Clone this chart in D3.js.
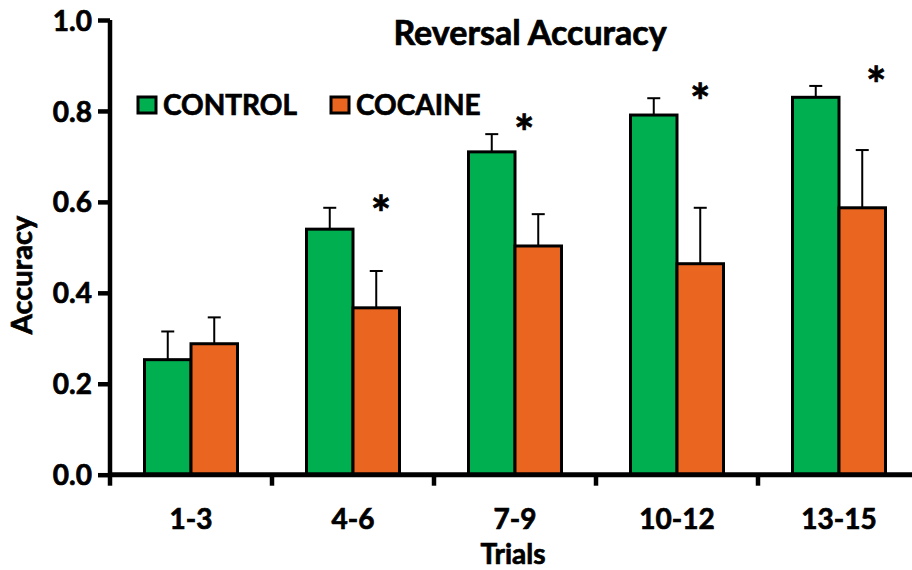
<!DOCTYPE html>
<html>
<head>
<meta charset="utf-8">
<script src="https://cdn.jsdelivr.net/npm/d3@7"></script>
<style>
  body { margin: 0; background: #fff; }
  text { font-family: Lato, "Open Sans", sans-serif; font-weight: bold; fill: #000; stroke: #000; stroke-width: 0.7px; }
</style>
</head>
<body>
<div id="chart"></div>
<script>
// data
var categories = ["1-3", "4-6", "7-9", "10-12", "13-15"]
var seriesNames = ["CONTROL", "COCAINE"]
var seriesColors = ["#00b050", "#ea6620"]
var controlMean = [0.253, 0.540, 0.710, 0.791, 0.830]
var controlErr = [0.062, 0.047, 0.039, 0.037, 0.025]
var cocaineMean = [0.288, 0.367, 0.503, 0.464, 0.587]
var cocaineErr = [0.058, 0.081, 0.070, 0.123, 0.127]
var yTicks = [0, 0.2, 0.4, 0.6, 0.8, 1.0]

// significance markers: group, height (accuracy units), shift from the cocaine bar (in bar widths)
var sigGroups = ["4-6", "7-9", "10-12", "13-15"]
var sigLevel = [0.585, 0.762, 0.831, 0.868]
var sigShift = [0.1, -0.3, 0, 0.3]

var width = 912, height = 570

var svg = d3.select("#chart")
  .append("svg")
  .attr("width", width)
  .attr("height", height)

// scales
var x0 = d3.scaleBand()
  .domain(categories)
  .range([110, 920])
  .paddingInner(0.426)
  .paddingOuter(0.213)

var x1 = d3.scaleBand()
  .domain(seriesNames)
  .range([0, x0.bandwidth()])

var y = d3.scaleLinear()
  .domain([0, 1])
  .range([474.7, 20])

var rows = categories.map(function(c, i) {
  return [
    {cat: c, s: seriesNames[0], v: controlMean[i], e: controlErr[i], col: seriesColors[0]},
    {cat: c, s: seriesNames[1], v: cocaineMean[i], e: cocaineErr[i], col: seriesColors[1]}
  ]
}).flat()

// error bars (only the upper half shows)
var err = svg.append("g")
err.selectAll("line.stem")
  .data(rows)
  .enter()
  .append("line")
  .attr("x1", function(d) { return x0(d.cat) + x1(d.s) + x1.bandwidth() / 2 })
  .attr("x2", function(d) { return x0(d.cat) + x1(d.s) + x1.bandwidth() / 2 })
  .attr("y1", function(d) { return y(d.v) })
  .attr("y2", function(d) { return y(d.v + d.e) })
  .attr("stroke", "#000")
  .attr("stroke-width", 2)
err.selectAll("line.cap")
  .data(rows)
  .enter()
  .append("line")
  .attr("x1", function(d) { return x0(d.cat) + x1(d.s) + x1.bandwidth() / 2 - 6.5 })
  .attr("x2", function(d) { return x0(d.cat) + x1(d.s) + x1.bandwidth() / 2 + 6.5 })
  .attr("y1", function(d) { return y(d.v + d.e) })
  .attr("y2", function(d) { return y(d.v + d.e) })
  .attr("stroke", "#000")
  .attr("stroke-width", 2)

// bars
svg.append("g")
  .selectAll("rect")
  .data(rows)
  .enter()
  .append("rect")
  .attr("x", function(d) { return x0(d.cat) + x1(d.s) })
  .attr("y", function(d) { return y(d.v) })
  .attr("width", x1.bandwidth())
  .attr("height", function(d) { return y(0) - y(d.v) })
  .attr("fill", function(d) { return d.col })
  .attr("stroke", "#000")
  .attr("stroke-width", 3)

// y axis
var yAxis = svg.append("g")
  .attr("transform", "translate(110,0)")
  .call(d3.axisLeft(y).tickValues(yTicks).tickFormat(d3.format(".1f")).tickSize(12).tickPadding(6))
yAxis.select(".domain").attr("stroke-width", 4.5).attr("d", "M0," + y(1) + "V" + y(0))
yAxis.selectAll(".tick line").attr("stroke-width", 4.5)
yAxis.selectAll(".tick text").style("font-size", "28px").attr("dy", "0.36em")

// x axis: ticks sit between the groups
var step = x0.step()
var bounds = categories.map(function(c) { return x0(c) + x0.bandwidth() / 2 - step / 2 })
var xAxis = svg.append("g")
xAxis.append("line")
  .attr("x1", 108).attr("x2", width)
  .attr("y1", y(0)).attr("y2", y(0))
  .attr("stroke", "#000").attr("stroke-width", 5)
xAxis.selectAll("line.tk")
  .data(bounds)
  .enter()
  .append("line")
  .attr("x1", function(d) { return d }).attr("x2", function(d) { return d })
  .attr("y1", y(0)).attr("y2", y(0) + 11)
  .attr("stroke", "#000").attr("stroke-width", 4.5)
xAxis.selectAll("text")
  .data(categories)
  .enter()
  .append("text")
  .attr("x", function(d) { return x0(d) + x0.bandwidth() / 2 })
  .attr("y", 529)
  .attr("text-anchor", "middle")
  .style("font-size", "28px")
  .text(function(d) { return d })

// axis titles and chart title
svg.append("text")
  .attr("x", 513).attr("y", 564)
  .attr("text-anchor", "middle")
  .style("font-size", "28px")
  .text("Trials")

svg.append("text")
  .attr("transform", "translate(32,275) rotate(-90)")
  .attr("text-anchor", "middle")
  .style("font-size", "29px")
  .text("Accuracy")

svg.append("text")
  .attr("x", 530).attr("y", 45)
  .attr("text-anchor", "middle")
  .style("font-size", "34px")
  .text("Reversal Accuracy")

// legend
var legendX = [138, 331]
var legend = svg.append("g")
  .selectAll("g")
  .data(seriesNames)
  .enter()
  .append("g")
  .attr("transform", function(d, i) { return "translate(" + legendX[i] + ",97)" })
legend.append("rect")
  .attr("width", 18).attr("height", 16)
  .attr("fill", function(d, i) { return seriesColors[i] })
  .attr("stroke", "#000").attr("stroke-width", 3)
legend.append("text")
  .attr("x", 25).attr("y", 17.5)
  .style("font-size", "28px")
  .text(function(d) { return d })

// asterisks
svg.append("g")
  .selectAll("text")
  .data(sigGroups)
  .enter()
  .append("text")
  .attr("x", function(d, i) { return x0(d) + x1(seriesNames[1]) + x1.bandwidth() * (0.5 + sigShift[i]) })
  .attr("y", function(d, i) { return y(sigLevel[i]) + 22 })
  .attr("text-anchor", "middle")
  .style("font-size", "48px")
  .text("*")
</script>
</body>
</html>
